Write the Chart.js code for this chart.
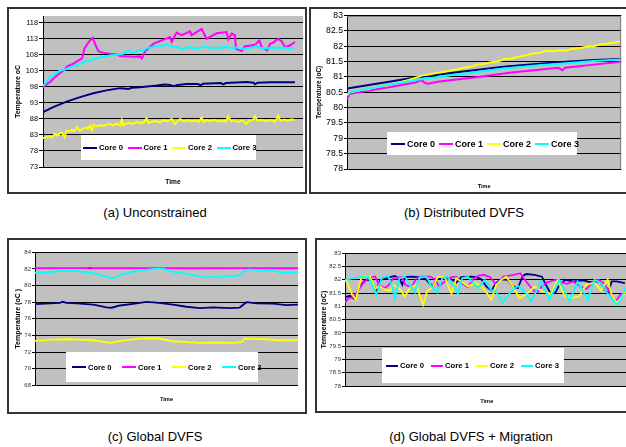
<!DOCTYPE html>
<html>
<head>
<meta charset="utf-8">
<title>Core temperatures under four policies</title>
<script src="https://cdn.jsdelivr.net/npm/chart.js@4.4.1/dist/chart.umd.min.js"></script>
<style>
  html, body { margin: 0; padding: 0; }
  body { position: relative; width: 626px; height: 447px; overflow: hidden; background: #fff;
         font-family: Arial, "Liberation Sans", Helvetica, sans-serif; }
  .box { position: absolute; border: 2px solid #333; box-sizing: border-box; background: #fff; }
  canvas { position: absolute; }
  .legend { position: absolute; background: #fff; }
  .legend .item { position: absolute; top: 0; height: 100%; display: flex; align-items: center;
                  font-weight: bold; color: #000; white-space: nowrap; }
  .legend .sw { display: inline-block; height: 2px; margin-right: 2px; }
  .caption { position: absolute; width: 300px; text-align: center; font-size: 13px; line-height: 15px; color: #000; }
</style>
</head>
<body>
<div class="box" style="left:7px;top:7px;width:300px;height:187px"></div>
<div class="box" style="left:309px;top:7px;width:330px;height:187px"></div>
<div class="box" style="left:7px;top:238px;width:300px;height:176px"></div>
<div class="box" style="left:315px;top:238px;width:330px;height:175px"></div>

<canvas id="chartA" width="296" height="183" style="left:9px;top:9px;width:296px;height:183px"></canvas>
<canvas id="chartB" width="315" height="183" style="left:311px;top:9px;width:315px;height:183px"></canvas>
<canvas id="chartC" width="296" height="172" style="left:9px;top:240px;width:296px;height:172px"></canvas>
<canvas id="chartD" width="330" height="171" style="left:317px;top:240px;width:330px;height:171px"></canvas>

<div class="legend" id="legendA" style="left:81px;top:135px;width:175px;height:25px"></div>
<div class="legend" id="legendB" style="left:387px;top:132px;width:190px;height:23px"></div>
<div class="legend" id="legendC" style="left:66px;top:352px;width:192px;height:30px"></div>
<div class="legend" id="legendD" style="left:382px;top:348px;width:182px;height:35px"></div>

<div class="caption" style="left:5px;top:205px">(a) Unconstrained</div>
<div class="caption" style="left:314px;top:205px">(b) Distributed DVFS</div>
<div class="caption" style="left:5px;top:429px">(c) Global DVFS</div>
<div class="caption" style="left:321px;top:429px">(d) Global DVFS + Migration</div>

<script>
// Series names and tick values
const seriesNames = ['Core 0', 'Core 1', 'Core 2', 'Core 3'];
const seriesColors = ['#000080', '#ff00ff', '#ffff00', '#00ffff'];

const ticksA = [73, 78, 83, 88, 93, 98, 103, 108, 113, 118];
const ticksB = [78, 78.5, 79, 79.5, 80, 80.5, 81, 81.5, 82, 82.5, 83];
const ticksC = [68, 70, 72, 74, 76, 78, 80, 82, 84];
const ticksD = [78, 78.5, 79, 79.5, 80, 80.5, 81, 81.5, 82, 82.5, 83];

// Readings as [time % of run, temperature], one list per core
// (a) Unconstrained
const unconCore0 = [[0,90.1],[4,91.7],[9.3,93.4],[14.6,94.8],[19.8,96],[25,96.9],[30.3,97.6],[32,97.5],[33.5,97.3],
  [35,97.7],[38.2,97.9],[44.8,98.4],[48,98.7],[50,98.6],[51.5,98.2],[53,98.6],[56.6,98.9],[61,98.9],[62,98.5],
  [63,99],[70,99.2],[71,98.8],[72,99.2],[80.2,99.5],[83,99.3],[83.5,98.8],[84.5,99.3],[90,99.4],[99.2,99.4]];
const unconCore1 = [[0,98],[2.9,99.6],[4,100.5],[6.2,102],[8.7,103.5],[9.4,104.3],[11.9,105.2],[13.9,106.2],
  [15.4,106.9],[16.3,109.9],[18.2,112.2],[19.6,113.3],[20.5,111.4],[21.8,109.1],[23.7,108.6],[29,108.1],
  [30.3,107.6],[35.7,107.4],[38.2,107.5],[38.9,106.8],[40.2,109.1],[43.4,111.4],[47.4,112.7],[48.8,113.1],
  [50,113.5],[50.7,112],[52,114],[52.6,114.9],[54.6,114.1],[57.9,115.3],[58.5,114.1],[62.5,116.1],[64.4,113],
  [68.4,114.7],[72.3,115.1],[73,112.8],[74.3,114.6],[75.6,114.1],[76,109.9],[78.2,109.2],[79.5,110.6],
  [83.5,111.1],[85.2,112.5],[86.1,110.4],[88.3,109.4],[89.4,111.4],[90.7,111.8],[92.6,113],[94,112.2],
  [95.3,110.4],[97.2,110.9],[99.2,112]];
const unconCore2 = [[0,82],[1.5,82.3],[2.5,82.6],[3.5,82.2],[4.7,83.3],[5.5,82.8],[6.5,83.4],[7.4,83.8],[8.5,82.3],
  [9.3,84.4],[10.5,84.1],[11.5,84.6],[12.3,84.2],[13.3,85.4],[14.5,84.3],[15.5,84.8],[16.8,85.3],[17.7,85],
  [18.5,85.9],[19.2,84.4],[19.9,86.2],[21,85.7],[22.5,86],[23.9,85.9],[25,86.3],[26.4,86.4],[27.5,86],[29,86.5],
  [30.3,86],[31,87.8],[31.6,86],[32.8,86.6],[34.3,86.8],[35.5,86.4],[37,87.1],[38.5,86.7],[39.8,87],[40.8,88.2],
  [41.5,86.7],[43,87.2],[44.8,87.3],[46,86.9],[47.5,87.6],[49,87.2],[50.7,88],[52,86.4],[53,87.3],[54,88],
  [55.5,87.2],[57,87.6],[58.5,87.2],[60,87.5],[61.5,87.1],[62.5,88.5],[63.2,87],[64.5,87.6],[66,87.3],[67.5,87.7],
  [69,87.2],[70.5,87.5],[72,87.2],[73,88.8],[74,87.3],[75.5,87.6],[77,87],[78.5,87.6],[80.2,86.4],[81,87.4],
  [82.5,87.6],[83.5,88.8],[84.5,87.4],[86,87.7],[87.5,87.3],[89,87.6],[90.5,87.4],[91.5,87.2],[92.6,89],
  [93.5,87.4],[95,87.8],[96.5,87.5],[98,87.9],[99.2,87.6]];
const unconCore3 = [[0,98.2],[2.8,101],[4.5,101.8],[6.7,103.1],[9,103.5],[11.9,104.5],[14,104.9],[16.5,105.9],
  [18.5,106.2],[21.1,107],[23.5,107.3],[26.4,107.8],[29,108],[31.6,108.3],[33.6,109.4],[35.6,108.5],[38.2,109.6],
  [39.5,109.2],[40.8,110.1],[42.5,110.3],[44.8,110.9],[46.5,110.7],[48.7,111.1],[50.5,110.6],[52,110.6],
  [53.5,110.2],[55.2,109.7],[56.5,110.3],[58,110.4],[60,109.9],[62,110.2],[64,110.5],[66,110.1],[68,110.3],
  [70,110.2],[72,110.5],[74,110.1],[76,110.3],[78,109.8],[80,110],[82,110.2],[84,110.8],[85.5,110.2],[88,110],
  [90,110.3],[92,110.1],[94,110.3],[96,110.1],[98.5,110.1]];

// (b) Distributed DVFS
const distCore0 = [[0,80.62],[12.5,80.8],[25,80.98],[40,81.15],[57,81.33],[70,81.43],[81,81.5],[90,81.55],[100,81.58]];
const distCore1 = [[0,80.28],[1,80.45],[12.5,80.62],[25,80.82],[27,80.9],[28.5,80.8],[29.5,80.78],[33,80.84],
  [47,80.99],[60,81.14],[77,81.3],[78.5,81.22],[79.5,81.3],[90,81.4],[100,81.49]];
const distCore2 = [[0,80.4],[1,80.5],[2.5,80.52],[5,80.57],[7.5,80.6],[10,80.66],[12.5,80.7],[15,80.73],[17.5,80.79],
  [20,80.84],[22.5,80.9],[25,80.97],[27.5,81.05],[30,81.08],[32.5,81.13],[35,81.16],[37.5,81.21],[40,81.24],
  [42.5,81.3],[45,81.33],[47.5,81.4],[50,81.43],[52.5,81.48],[55,81.5],[57.5,81.58],[60,81.6],[62.5,81.66],
  [65,81.7],[67.5,81.76],[70,81.78],[72.5,81.85],[75,81.84],[77.5,81.87],[80,81.86],[82.5,81.92],[85,81.94],
  [87.5,81.98],[90,82],[92.5,82.06],[95,82.08],[97.5,82.12],[100,82.15]];
const distCore3 = [[0,80.45],[1,80.5],[12.5,80.7],[25,80.9],[40,81.08],[57,81.27],[70,81.38],[81,81.45],[90,81.52],[100,81.57]];

// (c) Global DVFS
const globalCore0 = [[0,77.76],[9.5,77.92],[10.5,78.05],[12,77.92],[15.8,77.85],[22.2,77.7],[27.2,77.37],[29.1,77.33],
  [32.3,77.6],[37.3,77.8],[42.4,78.04],[46.2,77.95],[52.5,77.7],[57.6,77.45],[62.7,77.28],[67.7,77.37],[74,77.28],
  [77.8,77.35],[80.4,78],[84.2,77.85],[90.5,77.82],[95.6,77.64],[100,77.7]];
const globalCore1 = [[0,82.1],[20,82.1],[21,82.15],[22,82.1],[45,82.1],[46,82.15],[47,82.1],[60,82.08],[80,82.1],[100,82.08]];
const globalCore2 = [[0,73.34],[7,73.5],[12,73.54],[17,73.5],[22.2,73.42],[28.5,73.1],[30.4,73.2],[32.3,73.34],
  [39.9,73.62],[46.2,73.66],[52.5,73.3],[57.6,73.2],[62.7,73.1],[69,73.15],[75.3,73.1],[78.5,73.2],[79.7,73.62],
  [88,73.54],[91.8,73.42],[95.6,73.42],[100,73.42]];
const globalCore3 = [[0,81.54],[5,81.6],[9.5,81.78],[15.8,81.75],[20,81.6],[23.4,81.38],[27.2,81.06],[29.1,80.86],
  [30.5,80.95],[32.3,81.26],[35,81.45],[37.3,81.66],[40,81.8],[43.7,81.95],[46.2,82.07],[49,82],[52.5,81.66],
  [56,81.5],[60.1,81.26],[65.2,80.98],[68,81.05],[72.8,81.1],[76,81.15],[78.5,81.35],[79.7,81.86],[82,81.95],
  [84.2,81.8],[87,81.8],[90.5,81.86],[93,81.6],[95.6,81.54],[98,81.62],[100,81.55]];

// (d) Global DVFS + Migration
const migrCore0 = [[0,81.35],[1.8,81.4],[3.3,81.28],[5.3,81.75],[7.1,81.98],[8.9,82],[10.1,81.78],[11.2,81.6],
  [12.4,81.98],[14.2,82.06],[16,82.1],[17.8,82.15],[19.5,82.02],[20.4,81.81],[21.3,82.1],[23.7,82.12],[26.6,82.1],
  [28.4,82.06],[30.2,81.85],[31.4,81.75],[32.5,82.02],[35.5,82.06],[37.9,82.02],[39.6,81.9],[41.4,82.1],[45,82.12],
  [46.7,82.1],[48.5,82.02],[50.3,81.75],[52.1,81.6],[53.8,81.88],[55.6,82.02],[58,82],[59.8,81.75],[61.5,81.69],
  [63.3,82.15],[64.5,82.22],[67.5,82.19],[70.1,82.12],[71.2,81.88],[73,81.52],[74.8,81.5],[76,81.75],[78.3,82],
  [81.3,81.94],[84.9,81.98],[87.2,81.91],[90.8,81.94],[92.5,81.63],[93.7,81.5],[94.9,81.94],[96.7,81.94],[99.6,81.88]];
const migrCore1 = [[0,81.13],[1.2,81.31],[3,81.35],[4.7,81.6],[6.5,81.88],[8.3,82.06],[10.7,82.12],[12.1,81.81],
  [14,81.69],[15.4,81.78],[17.2,82.06],[20.1,82.12],[21.5,81.81],[23.7,81.72],[25.4,82.06],[27.2,82.12],[30.2,82.12],
  [32.2,82.02],[33.4,81.75],[35.5,81.94],[37.9,82.1],[39.6,82.12],[41.4,81.88],[43.8,81.72],[45.6,82.02],[47.3,82.15],
  [49.3,82.19],[51.7,82.1],[53.8,81.81],[56.4,82.12],[60,82.19],[62.4,82.25],[63.6,82.06],[65.9,81.75],[67.5,81.56],
  [68.6,81.56],[70.1,81.75],[71.8,81.9],[74.8,82],[76.6,81.94],[78.9,81.85],[81.3,81.94],[83.7,81.75],[86,81.66],
  [88.4,81.94],[90.2,82],[92,81.88],[93.7,81.63],[95.5,81.31],[96.7,81.23],[97.9,81.44],[99.6,81.5]];
const migrCore2 = [[0,82],[0.9,81.88],[2.4,81.48],[3.8,81.25],[5.9,82.1],[8.9,82.12],[10.7,81.65],[12.1,81.78],
  [14.2,81.63],[16,81.58],[17.2,81.81],[19.2,81.69],[21.3,81.38],[23.1,81.69],[25.4,81.81],[27.8,81.06],[29.2,81.56],
  [31.4,81.75],[33.1,82.12],[35.5,82.1],[37.9,81.48],[39.6,82.06],[41.4,81.94],[43.8,81.75],[46.2,81.88],[48.5,81.75],
  [50.5,81.5],[52.1,81.25],[53.8,81.81],[55.6,82],[57.4,82.12],[59.8,81.75],[62.1,81.31],[65.1,81.5],[67.5,81.75],
  [70.4,81.56],[73.4,81.48],[75.7,82],[78.1,81.4],[80.5,81.31],[83.4,81.38],[85.8,81.81],[88.8,81.9],[91.1,81.6],
  [93.5,82],[94.9,81.44],[96.7,81.13],[98.2,81.31],[100,81.56]];
const migrCore3 = [[0,82],[4.7,82.1],[8.3,82.1],[10.1,81.69],[11.2,81.44],[13,82.06],[15.4,82.15],[16.8,81.75],
  [17.8,81.29],[19.3,82.06],[21.3,82.12],[23.4,81.75],[24.9,81.52],[26.6,82.1],[29,82.1],[30.8,81.75],[32.9,81.52],
  [34.6,82.06],[36.4,82.12],[38.5,81.81],[40.2,81.48],[41.7,82.06],[43.8,82.12],[45.6,81.88],[47.3,81.69],[49.7,82],
  [52.1,81.6],[53.8,81.56],[56,81.13],[58.6,81.5],[61.5,81.78],[63.9,81.56],[66.3,81.19],[69.8,81.94],[72.8,81.25],
  [76.3,82],[79.9,81.19],[82.8,81.94],[86.4,81.25],[88.8,82],[91.1,81.88],[94.1,81.38],[97,81.06],[100,81.69]];

Chart.defaults.font.family = 'Arial, "Liberation Sans", Helvetica, sans-serif';

// Grey plot area like the old spreadsheet charts, optional frame on top/right
const plotArea = {
  id: 'plotArea',
  beforeDraw(chart, args, opts) {
    const { ctx, chartArea: a } = chart;
    ctx.save();
    ctx.fillStyle = '#c0c0c0';
    ctx.fillRect(a.left, a.top, a.right - a.left, a.bottom - a.top);
    ctx.restore();
  },
  afterDraw(chart, args, opts) {
    if (!opts.frame) return;
    const { ctx, chartArea: a } = chart;
    ctx.save();
    ctx.strokeStyle = opts.frame;
    ctx.lineWidth = 1;
    ctx.beginPath();
    ctx.moveTo(a.left, Math.round(a.top) + 0.5);
    ctx.lineTo(Math.round(a.right) - 0.5, Math.round(a.top) + 0.5);
    ctx.lineTo(Math.round(a.right) - 0.5, a.bottom);
    ctx.stroke();
    ctx.restore();
  }
};

function makeChart(id, cfg) {
  const datasets = cfg.series.map((pts, i) => ({
    label: seriesNames[i],
    data: pts.map(p => ({ x: p[0], y: p[1] })),
    borderColor: seriesColors[i],
    borderWidth: cfg.lineWidth,
    pointRadius: 0,
    fill: false,
    tension: 0,
    order: 3 - i
  }));

  return new Chart(document.getElementById(id), {
    type: 'line',
    data: { datasets },
    plugins: [plotArea],
    options: {
      responsive: false,
      animation: false,
      devicePixelRatio: 1,
      events: [],
      layout: { padding: cfg.pad },
      plugins: {
        legend: { display: false },
        tooltip: { enabled: false },
        plotArea: { frame: cfg.frame }
      },
      scales: {
        x: {
          type: 'linear', min: 0, max: cfg.xMax,
          ticks: { display: false },
          grid: { display: false, drawTicks: false },
          border: { display: false },
          title: { display: true, text: 'Time', color: '#000',
                   font: { size: cfg.xTitleSize, weight: 'bold' },
                   padding: { top: 0, bottom: cfg.xTitlePad } },
          afterFit: s => { s.height = cfg.xHeight; }
        },
        y: {
          type: 'linear', min: cfg.yMin, max: cfg.yMax,
          afterBuildTicks: s => { s.ticks = cfg.yTicks.map(v => ({ value: v })); },
          ticks: { autoSkip: false, color: cfg.tickColor, padding: 1,
                   font: { size: cfg.tickSize }, callback: v => String(v) },
          grid: { color: '#000', lineWidth: 1, drawTicks: true, tickLength: cfg.tickLen },
          border: { display: true, color: '#000', width: 1 },
          title: { display: true, text: cfg.yTitle, color: '#000',
                   font: { size: cfg.yTitleSize, weight: 'bold' },
                   padding: { top: cfg.yTitlePad, bottom: 0 } },
          afterFit: s => { s.width = cfg.yWidth; }
        }
      }
    }
  });
}

// HTML legend sitting inside the plot area, like the original
function makeLegend(id, lg) {
  const box = document.getElementById(id);
  seriesNames.forEach((name, i) => {
    const item = document.createElement('div');
    item.className = 'item';
    item.style.left = (lg.start + i * lg.pitch) + 'px';
    item.style.fontSize = lg.fontSize + 'px';
    item.innerHTML = `<span class="sw" style="width:${lg.swatch}px;background:${seriesColors[i]}"></span>${name}`;
    box.appendChild(item);
  });
}

makeChart('chartA', {
  series: [unconCore0, unconCore1, unconCore2, unconCore3],
  yMin: 73, yMax: 120.1, yTicks: ticksA, xMax: 102.4,
  pad: { left: 0, top: 7, right: 2, bottom: 0 }, yWidth: 34, xHeight: 25,
  tickSize: 7.4, tickColor: '#000', tickLen: 4,
  yTitle: 'Temperature oC', yTitleSize: 7, yTitlePad: 4.8,
  xTitleSize: 6.6, xTitlePad: 6, lineWidth: 2
});

makeChart('chartB', {
  series: [distCore0, distCore1, distCore2, distCore3],
  yMin: 78, yMax: 83, yTicks: ticksB, xMax: 100,
  pad: { left: 0, top: 6.5, right: 4.7, bottom: 0 }, yWidth: 36, xHeight: 23,
  tickSize: 8.7, tickColor: '#000', tickLen: 3,
  yTitle: 'Temperature (oC)', yTitleSize: 6.4, yTitlePad: 4.2,
  xTitleSize: 5.5, xTitlePad: 2, lineWidth: 2, frame: '#808080'
});

makeChart('chartC', {
  series: [globalCore0, globalCore1, globalCore2, globalCore3],
  yMin: 68, yMax: 84, yTicks: ticksC, xMax: 100,
  pad: { left: 0, top: 12.3, right: 7, bottom: 0 }, yWidth: 26, xHeight: 26.7,
  tickSize: 6, tickColor: '#333', tickLen: 3,
  yTitle: 'Temperature (oC )', yTitleSize: 7, yTitlePad: 5.1,
  xTitleSize: 5.7, xTitlePad: 9.6, lineWidth: 1.8
});

makeChart('chartD', {
  series: [migrCore0, migrCore1, migrCore2, migrCore3],
  yMin: 78, yMax: 83, yTicks: ticksD, xMax: 100.9,
  pad: { left: 0, top: 13.3, right: 18.5, bottom: 0 }, yWidth: 28, xHeight: 25,
  tickSize: 6, tickColor: '#333', tickLen: 3,
  yTitle: 'Temperature (oC)', yTitleSize: 7, yTitlePad: 3.1,
  xTitleSize: 5.7, xTitlePad: 6.6, lineWidth: 1.8
});

makeLegend('legendA', { start: 2, pitch: 44.5, swatch: 14, fontSize: 7.7 });
makeLegend('legendB', { start: 4, pitch: 48, swatch: 14, fontSize: 9 });
makeLegend('legendC', { start: 6, pitch: 50, swatch: 14, fontSize: 7.5 });
makeLegend('legendD', { start: 4, pitch: 45, swatch: 12, fontSize: 7.7 });
</script>
</body>
</html>
